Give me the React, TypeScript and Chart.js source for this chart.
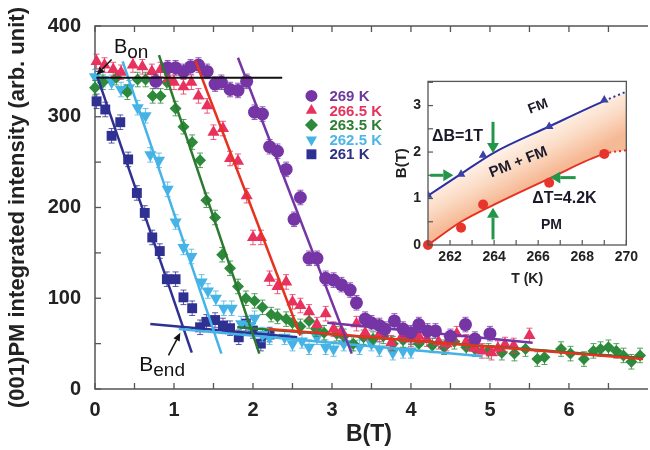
import React, { useEffect, useRef } from "react";
import { Chart, registerables } from "chart.js";

Chart.register(...registerables);

const FONT = "'Liberation Sans', Arial, Helvetica, sans-serif";

// ---------- main plot data (B in tesla, intensity in arb. unit) ----------
const b269 = [0.77, 0.92, 1.02, 1.12, 1.21, 1.31, 1.42, 1.52, 1.6, 1.71, 1.81, 1.92, 2.02, 2.12, 2.21, 2.31, 2.42, 2.52, 2.6, 2.71, 2.81, 2.92, 3.02, 3.12, 3.23, 3.31, 3.42, 3.5, 3.6, 3.67, 3.79, 3.9, 4.0, 4.1, 4.21, 4.31, 4.5, 4.69, 4.81, 5.0];
const i269 = [339, 354, 354, 350, 355, 357, 350, 336, 338, 330, 329, 339, 305, 303, 267, 262, 242, 187, 211, 144, 144, 122, 120, 115, 109, 95, 77, 73, 70, 66, 75, 66, 62, 71, 64, 64, 58, 71, 55, 61];

const b266 = [0.02, 0.12, 0.23, 0.33, 0.48, 0.6, 0.72, 0.83, 0.93, 1.0, 1.12, 1.22, 1.31, 1.42, 1.5, 1.62, 1.71, 1.81, 1.92, 2.0, 2.1, 2.21, 2.31, 2.42, 2.5, 2.6, 2.71, 2.81, 2.92, 3.02, 3.12, 3.31, 3.42, 3.6, 3.75, 3.9, 4.0, 4.1, 4.2, 4.35, 4.45, 4.58, 4.7, 4.8, 4.9, 5.02, 5.1, 5.19, 5.3, 5.5];
const i266 = [361, 357, 352, 349, 357, 355, 350, 352, 342, 338, 333, 338, 323, 312, 283, 287, 254, 251, 213, 167, 167, 122, 113, 118, 96, 92, 85, 71, 83, 66, 64, 72, 62, 60, 51, 60, 55, 58, 55, 52, 50, 61, 52, 45, 42, 40, 45, 49, 48, 59];

const b263 = [0, 0.1, 0.27, 0.41, 0.54, 0.64, 0.73, 0.83, 0.91, 1.02, 1.12, 1.23, 1.33, 1.41, 1.52, 1.61, 1.71, 1.81, 1.91, 2.02, 2.12, 2.23, 2.31, 2.42, 2.5, 2.6, 2.71, 2.8, 2.9, 3.06, 3.15, 3.27, 3.4, 3.52, 3.65, 3.77, 3.9, 4.0, 4.1, 4.27, 4.42, 4.55, 4.7, 4.81, 4.98, 5.15, 5.31, 5.45, 5.6, 5.69, 5.9, 6.02, 6.19, 6.31, 6.4, 6.5, 6.6, 6.69, 6.79, 6.9];
const i263 = [332, 338, 343, 327, 341, 341, 323, 323, 338, 309, 289, 272, 252, 208, 189, 148, 133, 113, 100, 97, 90, 82, 80, 77, 73, 69, 75, 66, 62, 61, 58, 50, 57, 55, 58, 50, 54, 57, 50, 48, 46, 52, 46, 44, 42, 40, 39, 44, 33, 35, 44, 39, 33, 42, 44, 46, 42, 37, 30, 37];

const b262 = [0, 0.1, 0.21, 0.33, 0.43, 0.54, 0.64, 0.7, 0.81, 0.92, 1.02, 1.12, 1.22, 1.35, 1.43, 1.53, 1.63, 1.73, 1.85, 1.95, 2.02, 2.12, 2.21, 2.4, 2.5, 2.62, 2.71, 2.81, 2.92, 3.02, 3.15, 3.25, 3.35, 3.5, 3.6, 3.77, 3.9, 4.0];
const i262 = [344, 341, 338, 330, 332, 310, 301, 258, 252, 220, 184, 156, 146, 118, 108, 100, 89, 89, 72, 70, 78, 60, 57, 57, 50, 53, 46, 57, 46, 44, 50, 50, 46, 50, 44, 40, 42, 42];

const b261 = [0.02, 0.13, 0.21, 0.32, 0.42, 0.53, 0.63, 0.725, 0.82, 0.91, 1.02, 1.12, 1.23, 1.33, 1.41, 1.52, 1.62, 1.71, 1.82, 1.91, 2.0, 2.1, 2.21];
const i261 = [317, 308, 279, 294, 253, 216, 194, 167, 152, 121, 121, 101, 89, 68, 74, 76, 70, 67, 57, 72, 64, 50, 60];

// steep linear fits
const fitB269 = [1.81, 3.25], fitI269 = [365, 39];
const fitB266 = [1.27, 2.6], fitI266 = [362, 59];
const fitB263 = [0.81, 2.08], fitI263 = [368, 39];
const fitB262 = [0.35, 1.6], fitI262 = [361, 39];
const fitB261 = [0.03, 1.225], fitI261 = [344, 40];
// high-field baseline fits
const baseB269 = [2.94, 5.54], baseI269 = [73, 51];
const baseB266 = [2.2, 6.95], baseI266 = [66, 33];
const baseB263 = [1.8, 6.95], baseI263 = [68, 34];
const baseB262 = [1.06, 4.9], baseI262 = [66, 36];
const baseB261 = [0.7, 2.56], baseI261 = [71.5, 57];
// B_on reference line
const bonB = [0.02, 2.37], bonI = [343, 343];
const ERR = 8;

const labels = ["269 K", "266.5 K", "263.5 K", "262.5 K", "261 K"];
const xTicks = [0, 1, 2, 3, 4, 5, 6];
const yTicks = [0, 100, 200, 300, 400];

// ---------- inset data ----------
const insetT = [261, 262.5, 263.5, 266.5, 269];
const insetOnsetB = [1.07, 1.52, 1.93, 2.55, 3.12]; // FM boundary (triangles)
const insetEndB = [0, 0.37, 0.87, 1.34, 1.96]; // PM boundary (circles)
const curveT = [261, 262.5, 264, 266.5, 269, 270];
const curveUpperB = [1.06, 1.53, 1.99, 2.55, 3.1, 3.3];
const curveLowerB = [0, 0.5, 0.87, 1.43, 1.96, 2.04];
const insetXTicks = [262, 264, 266, 268, 270];

// ---------- styling ----------
const COLORS = {
  k269: "#7535a5",
  k266: "#e8315c",
  k266line: "#e6321f",
  k263: "#2c8a3a",
  k262: "#45b3e6",
  k261: "#2e3192",
};
const AXIS = "#555555";

const pts = (xs: number[], ys: number[]) => xs.map((x, i) => ({ x, y: ys[i] }));

type Series = { label: string; b: number[]; i: number[]; color: string; text: string; lineColor: string; style: string; radius: number; rot: number; fitB: number[]; fitI: number[]; baseB: number[]; baseI: number[] };

const SERIES: Series[] = [
  { label: labels[0], b: b269, i: i269, color: COLORS.k269, text: "#6c3a9c", lineColor: COLORS.k269, style: "circle", radius: 6.5, rot: 0, fitB: fitB269, fitI: fitI269, baseB: baseB269, baseI: baseI269 },
  { label: labels[1], b: b266, i: i266, color: COLORS.k266, text: "#e2345e", lineColor: COLORS.k266line, style: "triangle", radius: 7, rot: 0, fitB: fitB266, fitI: fitI266, baseB: baseB266, baseI: baseI266 },
  { label: labels[2], b: b263, i: i263, color: COLORS.k263, text: "#2e7d32", lineColor: "#2b7a30", style: "rectRot", radius: 6, rot: 0, fitB: fitB263, fitI: fitI263, baseB: baseB263, baseI: baseI263 },
  { label: labels[3], b: b262, i: i262, color: COLORS.k262, text: "#4db6e6", lineColor: COLORS.k262, style: "triangle", radius: 7, rot: 180, fitB: fitB262, fitI: fitI262, baseB: baseB262, baseI: baseI262 },
  { label: labels[4], b: b261, i: i261, color: COLORS.k261, text: "#2e2f86", lineColor: COLORS.k261, style: "rect", radius: 7, rot: 0, fitB: fitB261, fitI: fitI261, baseB: baseB261, baseI: baseI261 },
];

function arrow(ctx: CanvasRenderingContext2D, x0: number, y0: number, x1: number, y1: number, color: string, w: number, hl: number, hw: number) {
  const ang = Math.atan2(y1 - y0, x1 - x0);
  const bx = x1 - hl * Math.cos(ang), by = y1 - hl * Math.sin(ang);
  ctx.save();
  ctx.strokeStyle = color; ctx.fillStyle = color; ctx.lineWidth = w;
  ctx.beginPath(); ctx.moveTo(x0, y0); ctx.lineTo(bx, by); ctx.stroke();
  ctx.beginPath();
  ctx.moveTo(x1, y1);
  ctx.lineTo(bx + (hw / 2) * Math.sin(ang), by - (hw / 2) * Math.cos(ang));
  ctx.lineTo(bx - (hw / 2) * Math.sin(ang), by + (hw / 2) * Math.cos(ang));
  ctx.closePath(); ctx.fill();
  ctx.restore();
}

function drawMarker(ctx: CanvasRenderingContext2D, style: string, x: number, y: number, r: number, rot: number, color: string) {
  ctx.save();
  ctx.fillStyle = color;
  ctx.translate(x, y);
  ctx.rotate((rot * Math.PI) / 180);
  ctx.beginPath();
  if (style === "circle") ctx.arc(0, 0, r, 0, Math.PI * 2);
  else if (style === "triangle") {
    for (let k = 0; k < 3; k++) {
      const a = -Math.PI / 2 + (k * 2 * Math.PI) / 3;
      const px = r * Math.cos(a), py = r * Math.sin(a);
      k === 0 ? ctx.moveTo(px, py) : ctx.lineTo(px, py);
    }
    ctx.closePath();
  } else if (style === "rectRot") {
    ctx.moveTo(0, -r); ctx.lineTo(r, 0); ctx.lineTo(0, r); ctx.lineTo(-r, 0); ctx.closePath();
  } else {
    const s = r * Math.SQRT1_2;
    ctx.rect(-s, -s, 2 * s, 2 * s);
  }
  ctx.fill();
  ctx.restore();
}

const errorBarPlugin = {
  id: "errbars",
  beforeDatasetDraw(chart: any, args: any) {
    const ds = chart.data.datasets[args.index];
    if (!ds.errLen) return;
    const ys = chart.scales.y;
    const ctx = chart.ctx as CanvasRenderingContext2D;
    ctx.save();
    ctx.strokeStyle = ds.backgroundColor;
    ctx.globalAlpha = 0.8;
    ctx.lineWidth = 1;
    args.meta.data.forEach((el: any, j: number) => {
      const d = ds.data[j];
      const t = ys.getPixelForValue(d.y + ds.errLen);
      const b = ys.getPixelForValue(d.y - ds.errLen);
      ctx.beginPath();
      ctx.moveTo(el.x, t); ctx.lineTo(el.x, b);
      ctx.moveTo(el.x - 3, t); ctx.lineTo(el.x + 3, t);
      ctx.moveTo(el.x - 3, b); ctx.lineTo(el.x + 3, b);
      ctx.stroke();
    });
    ctx.restore();
  },
};

const mainFramePlugin = {
  id: "mainframe",
  beforeDatasetsDraw(chart: any) {
    const { ctx, chartArea: a, scales } = chart;
    const xs = scales.x, ys = scales.y;
    ctx.save();
    ctx.strokeStyle = AXIS;
    ctx.lineWidth = 1.5;
    ctx.beginPath();
    ctx.moveTo(a.right + 5, a.top); ctx.lineTo(a.left, a.top); ctx.lineTo(a.left, a.bottom); ctx.lineTo(a.right + 5, a.bottom);
    ctx.stroke();
    ctx.lineWidth = 1.3;
    for (let v = 0; v <= 7; v += 0.5) {
      const px = xs.getPixelForValue(v);
      if (px > a.right) break;
      ctx.beginPath();
      ctx.moveTo(px, a.bottom); ctx.lineTo(px, a.bottom - 6);
      ctx.moveTo(px, a.top); ctx.lineTo(px, a.top + 6);
      ctx.stroke();
    }
    for (let v = 0; v <= 400; v += 50) {
      const py = ys.getPixelForValue(v);
      ctx.beginPath(); ctx.moveTo(a.left, py); ctx.lineTo(a.left + 6, py); ctx.stroke();
    }
    ctx.restore();
  },
};

const mainAnnotPlugin = {
  id: "mainannot",
  afterDraw(chart: any) {
    const { ctx, scales } = chart;
    const xs = scales.x, ys = scales.y;
    const X = (v: number) => xs.getPixelForValue(v);
    const Y = (v: number) => ys.getPixelForValue(v);
    // legend
    const lx = X(2.74), ly0 = Y(323);
    SERIES.forEach((s, k) => {
      const y = ly0 + k * 14.6;
      drawMarker(ctx, s.style, lx, y, s.style === "circle" ? 6 : s.style === "rect" ? 7 : 6.5, s.rot, s.color);
      ctx.save();
      ctx.font = `bold 15px ${FONT}`;
      ctx.fillStyle = s.text;
      ctx.textBaseline = "middle";
      ctx.fillText(s.label, lx + 18, y + 1);
      ctx.restore();
    });
    // B_on / B_end labels + arrows
    ctx.save();
    ctx.fillStyle = "#111";
    ctx.font = `20px ${FONT}`;
    const bx = X(0.24), by = Y(370);
    ctx.fillText("B", bx, by);
    const bw = ctx.measureText("B").width;
    ctx.font = `19px ${FONT}`;
    ctx.fillText("on", bx + bw, by + 5);
    ctx.font = `21px ${FONT}`;
    const ex = X(0.56), ey = Y(20);
    ctx.fillText("B", ex, ey);
    const ew = ctx.measureText("B").width;
    ctx.font = `19px ${FONT}`;
    ctx.fillText("end", ex + ew, ey + 5);
    ctx.restore();
    arrow(ctx, X(0.21), Y(363), X(0.02), Y(346), "#111", 1.5, 8, 7);
    arrow(ctx, X(0.93), Y(37), X(1.08), Y(62), "#111", 1.5, 8, 7);
  },
};

function mainConfig(): any {
  const datasets: any[] = [];
  SERIES.forEach((s, k) => {
    datasets.push({
      label: s.label,
      data: pts(s.b, s.i),
      pointStyle: s.style,
      pointRotation: s.rot,
      pointRadius: s.radius,
      pointBorderWidth: 0,
      backgroundColor: s.color,
      borderColor: s.color,
      showLine: false,
      errLen: ERR,
      order: 10 + k,
      clip: 10,
    });
  });
  SERIES.forEach((s) => {
    [pts(s.fitB, s.fitI), pts(s.baseB, s.baseI)].forEach((d) => {
      datasets.push({
        data: d,
        showLine: true,
        borderColor: s.lineColor,
        borderWidth: 2.5,
        pointRadius: 0,
        order: 2,
      });
    });
  });
  datasets.push({ data: pts(bonB, bonI), showLine: true, borderColor: "#111", borderWidth: 2, pointRadius: 0, order: 1 });

  return {
    type: "scatter",
    data: { datasets },
    options: {
      animation: false,
      responsive: false,
      events: [],
      layout: { padding: { top: 21, left: 0, right: 0, bottom: 0 } },
      plugins: { legend: { display: false }, tooltip: { enabled: false } },
      scales: {
        x: {
          type: "linear",
          min: 0,
          max: 6.9375,
          afterFit: (s: any) => { s.height = 61; },
          afterBuildTicks: (s: any) => { s.ticks = xTicks.map((v) => ({ value: v })); },
          grid: { display: false, drawTicks: false },
          border: { display: false },
          ticks: { font: { family: FONT, size: 20, weight: "bold" }, color: "#222", padding: 9, autoSkip: false, maxRotation: 0 },
          title: { display: true, text: "B(T)", font: { family: FONT, size: 23, weight: "bold" }, color: "#222", padding: { top: 0, bottom: 2 } },
        },
        y: {
          type: "linear",
          min: 0,
          max: 400,
          afterFit: (s: any) => { s.width = 95; },
          afterBuildTicks: (s: any) => { s.ticks = yTicks.map((v) => ({ value: v })); },
          grid: { display: false, drawTicks: false },
          border: { display: false },
          ticks: { font: { family: FONT, size: 20, weight: "bold" }, color: "#222", padding: 14 },
          title: { display: true, text: "(001)PM integrated intensity (arb. unit)", font: { family: FONT, size: 22, weight: "bold" }, color: "#222", padding: { top: 5, bottom: 0 } },
        },
      },
    },
    plugins: [errorBarPlugin, mainFramePlugin, mainAnnotPlugin],
  };
}

// ---------- inset ----------
const insetPlugin = {
  id: "insetdeco",
  beforeDatasetsDraw(chart: any) {
    const { ctx, chartArea: a } = chart;
    ctx.save();
    ctx.fillStyle = "#fff";
    ctx.fillRect(a.left, a.top, a.right - a.left, a.bottom - a.top);
    ctx.restore();
  },
  afterDatasetsDraw(chart: any) {
    const { ctx, chartArea: a, scales } = chart;
    const xs = scales.x, ys = scales.y;
    const X = (v: number) => xs.getPixelForValue(v);
    const Y = (v: number) => ys.getPixelForValue(v);
    ctx.save();
    ctx.strokeStyle = AXIS;
    ctx.lineWidth = 1.3;
    ctx.strokeRect(a.left, a.top, a.right - a.left, a.bottom - a.top);
    ctx.lineWidth = 1.2;
    for (let v = 261; v <= 270; v += 1) {
      ctx.beginPath(); ctx.moveTo(X(v), a.bottom); ctx.lineTo(X(v), a.bottom - 5); ctx.stroke();
    }
    for (let v = 0; v <= 3.5; v += 0.5) {
      ctx.beginPath(); ctx.moveTo(a.left, Y(v)); ctx.lineTo(a.left + 5, Y(v)); ctx.stroke();
    }
    ctx.restore();

    const G = "#23964a";
    arrow(ctx, X(261.1), Y(1.5), X(262.15), Y(1.5), G, 3, 10, 12);
    arrow(ctx, X(263.95), Y(2.65), X(263.95), Y(1.98), G, 3, 10, 12);
    arrow(ctx, X(263.95), Y(0.12), X(263.95), Y(0.8), G, 3, 10, 12);
    arrow(ctx, X(267.7), Y(1.45), X(266.55), Y(1.45), G, 3, 10, 12);

    ctx.save();
    ctx.fillStyle = "#1a1a2a";
    ctx.font = `bold 16px ${FONT}`;
    ctx.textBaseline = "alphabetic";
    ctx.fillText("\u0394B=1T", X(261.18), Y(2.24));
    ctx.fillText("\u0394T=4.2K", X(265.73), Y(0.91));
    ctx.font = `bold 14px ${FONT}`;
    ctx.textAlign = "center";
    ctx.textBaseline = "middle";
    ctx.fillText("PM", X(266.6), Y(0.42));
    ctx.translate(X(266.0), Y(2.98));
    ctx.rotate(-0.36);
    ctx.fillText("FM", 0, 0);
    ctx.restore();
    ctx.save();
    ctx.fillStyle = "#1a1a2a";
    ctx.font = `bold 15px ${FONT}`;
    ctx.textAlign = "center";
    ctx.textBaseline = "middle";
    ctx.translate(X(265.1), Y(1.78));
    ctx.rotate(-0.38);
    ctx.fillText("PM + FM", 0, 0);
    ctx.restore();
  },
};

function insetConfig(): any {
  const grad = (c: any) => {
    const ch = c.chart;
    const xs = ch.scales.x, ys = ch.scales.y;
    if (!xs || !ys || !ch.chartArea) return "rgba(249,205,175,0.9)";
    const x0 = xs.getPixelForValue(261), x1 = xs.getPixelForValue(269);
    const ya = ys.getPixelForValue(0.55), yb = ys.getPixelForValue(2.55);
    const dx = x1 - x0, dy = yb - ya;
    const len = Math.hypot(dx, dy);
    let nx = -dy / len, ny = dx / len; // perpendicular to the band
    if (ny < 0) { nx = -nx; ny = -ny; }
    const cx = xs.getPixelForValue(265);
    const yTop = ys.getPixelForValue(2.3), yBot = ys.getPixelForValue(1.15);
    const cy = (yTop + yBot) / 2;
    const half = ((yBot - yTop) / 2) * ny;
    const g = ch.ctx.createLinearGradient(cx - nx * half, cy - ny * half, cx + nx * half, cy + ny * half);
    g.addColorStop(0, "#fff5ee");
    g.addColorStop(0.5, "#fbdcc6");
    g.addColorStop(1, "#f6b995");
    return g;
  };
  const dash = (c: any) => (c.p0DataIndex >= 4 ? [2, 3] : undefined);
  return {
    type: "scatter",
    data: {
      datasets: [
        { data: pts(curveT, curveUpperB), showLine: true, borderWidth: 0, borderColor: "rgba(0,0,0,0)", pointRadius: 0, cubicInterpolationMode: "monotone", fill: "+1", backgroundColor: grad, order: 8 },
        { data: pts(curveT, curveLowerB), showLine: true, borderWidth: 0, borderColor: "rgba(0,0,0,0)", pointRadius: 0, cubicInterpolationMode: "monotone", fill: false, order: 7 },
        { data: pts(curveT, curveUpperB), showLine: true, borderColor: "#2b31a0", borderWidth: 2, pointRadius: 0, cubicInterpolationMode: "monotone", fill: false, segment: { borderDash: dash }, order: 5 },
        { data: pts(curveT, curveLowerB), showLine: true, borderColor: "#e8301f", borderWidth: 2, pointRadius: 0, cubicInterpolationMode: "monotone", fill: false, segment: { borderDash: dash }, order: 4 },
        { data: pts(insetT, insetOnsetB), pointStyle: "triangle", pointRadius: 5, pointBorderWidth: 0, backgroundColor: "#3b40a6", order: 2 },
        { data: pts(insetT, insetEndB), pointStyle: "circle", pointRadius: 5, pointBorderWidth: 0, backgroundColor: "#e8352b", order: 1, clip: 8 },
      ],
    },
    options: {
      animation: false,
      responsive: false,
      events: [],
      layout: { padding: { top: 11, right: 12, left: 0, bottom: 0 } },
      plugins: { legend: { display: false }, tooltip: { enabled: false } },
      scales: {
        x: {
          type: "linear",
          min: 261,
          max: 270,
          afterFit: (s: any) => { s.height = 46; },
          afterBuildTicks: (s: any) => { s.ticks = insetXTicks.map((v) => ({ value: v })); },
          grid: { display: false, drawTicks: false },
          border: { display: false },
          ticks: { font: { family: FONT, size: 14, weight: "bold" }, color: "#222", padding: 4, autoSkip: false, maxRotation: 0 },
          title: { display: true, text: "T (K)", font: { family: FONT, size: 14, weight: "bold" }, color: "#222", padding: { top: 0, bottom: 3 } },
        },
        y: {
          type: "linear",
          min: 0,
          max: 3.52,
          afterFit: (s: any) => { s.width = 48; },
          afterBuildTicks: (s: any) => { s.ticks = [0, 1, 2, 3].map((v) => ({ value: v })); },
          grid: { display: false, drawTicks: false },
          border: { display: false },
          ticks: { font: { family: FONT, size: 14, weight: "bold" }, color: "#222", padding: 7 },
          title: { display: true, text: "B(T)", font: { family: FONT, size: 15, weight: "bold" }, color: "#222", padding: { top: 13, bottom: 0 } },
        },
      },
    },
    plugins: [insetPlugin],
  };
}

export default function App() {
  const mainRef = useRef<HTMLCanvasElement>(null);
  const insetRef = useRef<HTMLCanvasElement>(null);
  useEffect(() => {
    const main = new Chart(mainRef.current as HTMLCanvasElement, mainConfig());
    const inset = new Chart(insetRef.current as HTMLCanvasElement, insetConfig());
    return () => {
      main.destroy();
      inset.destroy();
    };
  }, []);
  return (
    <div style={{ position: "fixed", left: 0, top: 0, width: 650, height: 450, background: "#fff", overflow: "hidden" }}>
      <canvas ref={mainRef} width={650} height={450} style={{ position: "absolute", left: 0, top: 0, width: 650, height: 450 }} />
      <canvas ref={insetRef} width={262} height={225} style={{ position: "absolute", left: 380, top: 66, width: 262, height: 225 }} />
    </div>
  );
}
